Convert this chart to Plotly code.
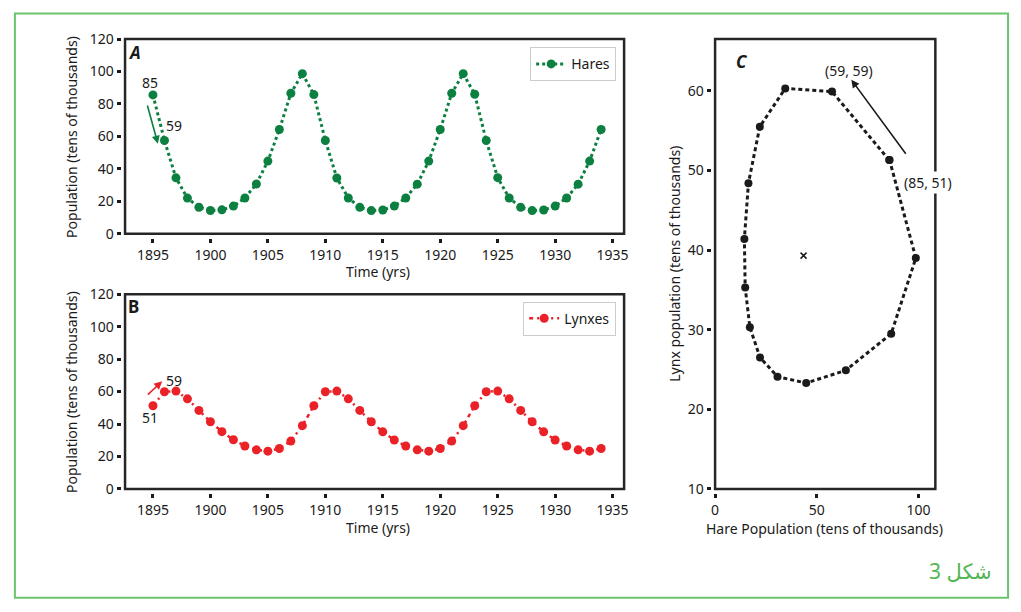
import plotly.graph_objects as go

W, H = 1021, 612

# ---------------- data ----------------
years = list(range(1895, 1935))
hares = [85.6, 57.5, 34.5, 22.0, 16.4, 14.4, 14.8, 17.1, 22.1, 30.7, 44.8, 64.3, 86.6, 98.7,
         85.8, 57.5, 34.4, 22.1, 16.3, 14.3, 14.7, 17.1, 22.1, 30.6, 44.8, 64.3, 86.6, 98.7,
         86.0, 57.5, 34.6, 22.1, 16.3, 14.3, 14.7, 17.1, 22.1, 30.6, 44.8, 64.3]
lynxes = [51.3, 59.9, 60.3, 55.5, 48.4, 41.4, 35.3, 30.3, 26.5, 24.1, 23.3, 24.9, 29.5, 39.0,
          51.3, 59.9, 60.3, 55.5, 48.4, 41.4, 35.2, 30.2, 26.5, 24.1, 23.3, 24.9, 29.5, 39.0,
          51.3, 59.9, 60.3, 55.5, 48.4, 41.4, 35.2, 30.2, 26.5, 24.1, 23.3, 24.9]
cycle_len = 15  # one full cycle (1895-1909) for the phase plot
equilibrium_hare = [43.5]
equilibrium_lynx = [39.3]

time_ticks = [1895, 1900, 1905, 1910, 1915, 1920, 1925, 1930, 1935]
pop_ticks = [0, 20, 40, 60, 80, 100, 120]
hare_ticks = [0, 50, 100]
lynx_ticks = [10, 20, 30, 40, 50, 60]

GREEN = "#0c8040"
RED = "#ea2228"
FONT = "Noto Sans, DejaVu Sans, sans-serif"

def px(x):
    return x / W

def py(y):
    return 1 - y / H

fig = go.Figure()

fig.add_trace(go.Scatter(
    x=years, y=hares, mode="lines+markers", name="Hares",
    line=dict(color=GREEN, width=3, dash="dot"),
    marker=dict(color=GREEN, size=9),
    xaxis="x", yaxis="y", legend="legend"))

fig.add_trace(go.Scatter(
    x=years, y=lynxes, mode="lines+markers", name="Lynxes",
    line=dict(color=RED, width=2.5, dash="4px,4px,2px,4px"),
    marker=dict(color=RED, size=9),
    xaxis="x2", yaxis="y2", legend="legend2"))

fig.add_trace(go.Scatter(
    x=hares[:cycle_len], y=lynxes[:cycle_len], mode="lines+markers",
    line=dict(color="#1a1a1a", width=3, dash="4px,3px"),
    marker=dict(color="#1a1a1a", size=8),
    xaxis="x3", yaxis="y3", showlegend=False))

fig.add_trace(go.Scatter(
    x=equilibrium_hare, y=equilibrium_lynx, mode="markers",
    marker=dict(symbol="x-thin", size=6, line=dict(color="#1a1a1a", width=1.5)),
    xaxis="x3", yaxis="y3", showlegend=False))

# ---------------- axes ----------------
A_left, A_right = 122, 625
A_top, A_bot = 30, 231
B_top, B_bot = 293.3, 494.3
C_left, C_right = 716.7, 938.7
C_top, C_bot = 30, 494.3

tickstyle = dict(ticks="outside", ticklen=4, tickwidth=3, tickcolor="#1a1a1a",
                 showline=False, showgrid=False, zeroline=False,
                 tickfont=dict(family=FONT, size=14, color="#1a1a1a"))

fig.update_layout(
    xaxis=dict(domain=[px(A_left), px(A_right)], range=[1892.57, 1936.0],
               anchor="free", position=py(A_bot + 4), tickvals=time_ticks, **tickstyle),
    yaxis=dict(domain=[py(A_bot), py(A_top)], range=[0, 120],
               anchor="free", position=px(A_left - 4.5), tickvals=pop_ticks, **tickstyle),
    xaxis2=dict(domain=[px(A_left), px(A_right)], range=[1892.57, 1936.0],
                anchor="free", position=py(B_bot + 4), tickvals=time_ticks, **tickstyle),
    yaxis2=dict(domain=[py(B_bot), py(B_top)], range=[0, 120],
                anchor="free", position=px(A_left - 4.5), tickvals=pop_ticks, **tickstyle),
    xaxis3=dict(domain=[px(C_left), px(C_right)], range=[0, 108.3],
                anchor="free", position=py(C_bot + 4), tickvals=hare_ticks, **tickstyle),
    yaxis3=dict(domain=[py(C_bot), py(C_top)], range=[10, 66.5],
                anchor="free", position=px(C_left - 4.5), tickvals=lynx_ticks, **tickstyle),
)

# frames
shapes = []
for xr, yr in [("x domain", "y domain"), ("x2 domain", "y2 domain"), ("x3 domain", "y3 domain")]:
    shapes.append(dict(type="rect", xref=xr, yref=yr, x0=0, x1=1, y0=0, y1=1,
                       line=dict(color="#262626", width=2.5), layer="above"))
# outer green border
shapes.append(dict(type="rect", xref="paper", yref="paper",
                   x0=px(11), x1=px(1012), y0=py(606.5), y1=py(3.5),
                   line=dict(color="#6cc46c", width=2)))

annotations = []

def txt(text, x, y, size=14, angle=0, color="#1a1a1a", **kw):
    annotations.append(dict(text=text, x=px(x), y=py(y), xref="paper", yref="paper",
                            showarrow=False, textangle=angle, xanchor="center",
                            yanchor="middle", font=dict(family=FONT, size=size, color=color), **kw))

# axis titles
txt("Population (tens of thousands)", 68, (A_top + A_bot) / 2, angle=-90)
txt("Population (tens of thousands)", 68, (B_top + B_bot) / 2, angle=-90)
txt("Time (yrs)", 377, 270)
txt("Time (yrs)", 377, 534)
txt("Lynx population (tens of thousands)", 675, (C_top + C_bot) / 2, angle=-90)
txt("Hare Population (tens of thousands)", 827, 535)

# panel letters
txt("<b><i>A</i></b>", 132, 44, size=17)
txt("<b>B</b>", 131, 306, size=17)
txt("<b><i>C</i></b>", 744, 53, size=17)

# caption
txt("شكل 3", 964, 579, size=21, color="#55b655")

# data annotations
def dtext(text, x, y, xa, ya, **kw):
    annotations.append(dict(text=text, x=x, y=y, xref=xa, yref=ya, showarrow=False,
                            xanchor="center", yanchor="middle",
                            font=dict(family=FONT, size=14, color="#1a1a1a"), **kw))

def arrow(xh, yh, xt, yt, xa, ya, color):
    annotations.append(dict(text="", x=xh, y=yh, ax=xt, ay=yt, xref=xa, yref=ya,
                            axref=xa, ayref=ya, showarrow=True, arrowhead=2,
                            arrowsize=1, arrowwidth=1.6, arrowcolor=color))

dtext("85", 1894.74, 93.1, "x", "y")
dtext("59", 1896.85, 66.9, "x", "y")
arrow(1895.43, 55.5, 1894.48, 80.0, "x", "y", GREEN)

dtext("59", 1896.85, 66.9, "x2", "y2")
dtext("51", 1894.77, 43.8, "x2", "y2")
arrow(1895.8, 66.3, 1894.42, 57.3, "x2", "y2", RED)

dtext("(59, 59)", 65.8, 62.5, "x3", "y3")
dtext("(85, 51)", 104.9, 48.5, "x3", "y3", bgcolor="white")
arrow(67.0, 61.4, 94.3, 51.9, "x3", "y3", "#1a1a1a")

legend_style = dict(bgcolor="white", bordercolor="#cccccc", borderwidth=1,
                    font=dict(family=FONT, size=14, color="#1a1a1a"),
                    xanchor="right", yanchor="top", itemwidth=30)

fig.update_layout(
    width=W, height=H,
    margin=dict(l=0, r=0, t=0, b=0),
    paper_bgcolor="white", plot_bgcolor="white",
    font=dict(family=FONT, size=14, color="#1a1a1a"),
    shapes=shapes, annotations=annotations,
    legend=dict(x=px(617), y=py(38.5), **legend_style),
    legend2=dict(x=px(617), y=py(301), **legend_style),
)

fig.write_html("out.html", config={"displayModeBar": False},
               post_script="document.body.style.margin='0';document.body.style.overflow='hidden';")
